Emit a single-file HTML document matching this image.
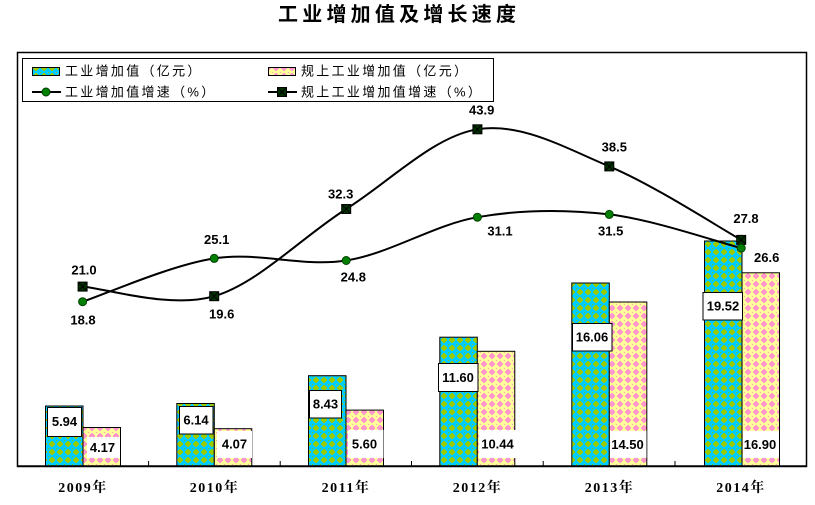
<!DOCTYPE html>
<html><head><meta charset="utf-8">
<style>
html,body{margin:0;padding:0;background:#fff;}
svg{display:block;}
.lbl{font-family:"Liberation Sans",Arial,sans-serif;font-weight:bold;font-size:13px;fill:#000;}
.cjk{font-family:"Liberation Sans","Noto Sans CJK SC",sans-serif;}
</style></head>
<body>
<svg width="815" height="505" viewBox="0 0 815 505" xmlns="http://www.w3.org/2000/svg">
<defs>
<pattern id="p1" width="8" height="8" patternUnits="userSpaceOnUse">
<rect width="8" height="8" fill="#00CCFF"/>
<g fill="#99CC00" shape-rendering="crispEdges">
<rect x="3" y="1" width="2" height="6"/>
<rect x="2" y="2" width="4" height="4"/>
<rect x="1" y="3" width="6" height="2"/>
<rect x="0" y="0" width="1" height="1"/>
</g>
</pattern>
<pattern id="p2" width="8" height="8" patternUnits="userSpaceOnUse">
<rect width="8" height="8" fill="#FFFF99"/>
<g fill="#FF99CC" shape-rendering="crispEdges">
<rect x="3" y="1" width="2" height="6"/>
<rect x="2" y="2" width="4" height="4"/>
<rect x="1" y="3" width="6" height="2"/>
<rect x="0" y="0" width="1" height="1"/>
</g>
</pattern>
</defs>

<!-- Title -->
<text x="278" y="21" class="cjk" font-size="20" font-weight="bold" textLength="238" lengthAdjust="spacing" fill="#000">工业增加值及增长速度</text>

<!-- Frame -->
<rect x="17.5" y="52.5" width="789" height="414" fill="none" stroke="#000" stroke-width="1.5"/>

<!-- Legend -->
<rect x="22.5" y="58.5" width="471" height="43" fill="#fff" stroke="#000" stroke-width="1"/>
<rect x="32.5" y="67.5" width="27" height="8" fill="url(#p1)" stroke="#000" stroke-width="1"/>
<text x="65" y="75.6" class="cjk" font-size="13" letter-spacing="2.3" fill="#000">工业增加值（亿元）</text>
<rect x="268.5" y="67.5" width="27" height="8" fill="url(#p2)" stroke="#000" stroke-width="1"/>
<text x="301" y="75.6" class="cjk" font-size="13" letter-spacing="2.3" fill="#000">规上工业增加值（亿元）</text>
<line x1="32" y1="92" x2="61" y2="92" stroke="#000" stroke-width="2"/>
<circle cx="46" cy="92" r="4" fill="#008000" stroke="#004000" stroke-width="1"/>
<text x="65" y="96.6" class="cjk" font-size="13" letter-spacing="2.3" fill="#000">工业增加值增速（%）</text>
<line x1="268" y1="92" x2="297" y2="92" stroke="#000" stroke-width="2"/>
<rect x="277.5" y="87.5" width="9" height="9" fill="#003300" stroke="#000" stroke-width="1"/>
<path d="M278 88 L286 96 M286 88 L278 96" stroke="#000" stroke-width="1"/>
<text x="301" y="96.6" class="cjk" font-size="13" letter-spacing="2.3" fill="#000">规上工业增加值增速（%）</text>

<!-- Bars series 1 -->
<g stroke="#000" stroke-width="1">
<rect x="45.5" y="406" width="37.5" height="60" fill="url(#p1)"/>
<rect x="176.8" y="403.5" width="37.5" height="62.5" fill="url(#p1)"/>
<rect x="308.5" y="375.7" width="37.5" height="90.3" fill="url(#p1)"/>
<rect x="439.8" y="337.2" width="37.5" height="128.8" fill="url(#p1)"/>
<rect x="571.8" y="283" width="37.5" height="183" fill="url(#p1)"/>
<rect x="704.5" y="241" width="37.5" height="225" fill="url(#p1)"/>
<!-- Bars series 2 -->
<rect x="83" y="427.5" width="37.5" height="38.5" fill="url(#p2)"/>
<rect x="214.3" y="428.7" width="37.5" height="37.3" fill="url(#p2)"/>
<rect x="346" y="410.1" width="37.5" height="55.9" fill="url(#p2)"/>
<rect x="477.3" y="351.3" width="37.5" height="114.7" fill="url(#p2)"/>
<rect x="609.3" y="302" width="37.5" height="164" fill="url(#p2)"/>
<rect x="742" y="272.8" width="37.5" height="193.2" fill="url(#p2)"/>
</g>

<!-- Axis line & ticks -->
<line x1="17" y1="466" x2="807" y2="466" stroke="#000" stroke-width="1.5"/>
<g stroke="#000" stroke-width="1">
<line x1="148.6" y1="461" x2="148.6" y2="466"/>
<line x1="280.2" y1="461" x2="280.2" y2="466"/>
<line x1="411.5" y1="461" x2="411.5" y2="466"/>
<line x1="543.2" y1="461" x2="543.2" y2="466"/>
<line x1="675" y1="461" x2="675" y2="466"/>
</g>

<!-- Bar labels series 1 (bordered) -->
<g fill="#fff" stroke="#000" stroke-width="1">
<rect x="47.5" y="407.5" width="34" height="29"/>
<rect x="179.5" y="406.5" width="33.5" height="27.5"/>
<rect x="309.5" y="390.5" width="32" height="27.5"/>
<rect x="438.5" y="363.5" width="39.5" height="28"/>
<rect x="572.5" y="323.5" width="39.5" height="27.5"/>
<rect x="703" y="292.5" width="39.5" height="27.5"/>
</g>
<!-- Bar labels series 2 (white boxes) -->
<g fill="#fff">
<rect x="87" y="437" width="33" height="21"/>
<rect x="217" y="431" width="35" height="27"/>
<rect x="348" y="430" width="35.5" height="28"/>
<rect x="479" y="430" width="38" height="28"/>
<rect x="610" y="431" width="36.5" height="27"/>
<rect x="743" y="431" width="36" height="27"/>
</g>
<g class="lbl" text-anchor="middle">
<text x="64.5" y="426.2">5.94</text>
<text x="196" y="424.7">6.14</text>
<text x="325.5" y="408.7">8.43</text>
<text x="458" y="382.2">11.60</text>
<text x="592" y="341.7">16.06</text>
<text x="723" y="310.7">19.52</text>
<text x="102.5" y="452">4.17</text>
<text x="234.5" y="448.7">4.07</text>
<text x="364.5" y="448.7">5.60</text>
<text x="497.5" y="448.7">10.44</text>
<text x="627.5" y="449.2">14.50</text>
<text x="760" y="449.2">16.90</text>
</g>

<!-- Lines -->
<path d="M82.6 301.7 C104.5 294.5 170.3 265.3 214.2 258.4 C258.1 251.5 302.3 267.4 346.2 260.5 C390.1 253.6 433.6 224.9 477.4 217.2 C521.3 209.5 565.3 209.3 609.3 214.4 C653.3 219.6 719.2 242.5 741.2 248.1" fill="none" stroke="#000" stroke-width="2"/>
<path d="M82.6 286.6 C104.5 288.2 170.3 309.1 214.2 296.2 C258.1 283.3 302.3 236.8 346.2 209.0 C390.1 181.2 433.6 136.4 477.4 129.3 C521.3 122.2 565.3 148.0 609.3 166.4 C653.3 184.8 719.2 227.6 741.2 239.9" fill="none" stroke="#000" stroke-width="2"/>

<!-- Square markers -->
<g>
<g transform="translate(82.6,286.6)"><rect x="-4.5" y="-4.5" width="9" height="9" fill="#003300" stroke="#000" stroke-width="1"/><path d="M-4 -4 L4 4 M4 -4 L-4 4" stroke="#000" stroke-width="1"/></g>
<g transform="translate(214.2,296.2)"><rect x="-4.5" y="-4.5" width="9" height="9" fill="#003300" stroke="#000" stroke-width="1"/><path d="M-4 -4 L4 4 M4 -4 L-4 4" stroke="#000" stroke-width="1"/></g>
<g transform="translate(346.2,209)"><rect x="-4.5" y="-4.5" width="9" height="9" fill="#003300" stroke="#000" stroke-width="1"/><path d="M-4 -4 L4 4 M4 -4 L-4 4" stroke="#000" stroke-width="1"/></g>
<g transform="translate(477.4,129.3)"><rect x="-4.5" y="-4.5" width="9" height="9" fill="#003300" stroke="#000" stroke-width="1"/><path d="M-4 -4 L4 4 M4 -4 L-4 4" stroke="#000" stroke-width="1"/></g>
<g transform="translate(609.3,166.4)"><rect x="-4.5" y="-4.5" width="9" height="9" fill="#003300" stroke="#000" stroke-width="1"/><path d="M-4 -4 L4 4 M4 -4 L-4 4" stroke="#000" stroke-width="1"/></g>
<g transform="translate(741.2,239.9)"><rect x="-4.5" y="-4.5" width="9" height="9" fill="#003300" stroke="#000" stroke-width="1"/><path d="M-4 -4 L4 4 M4 -4 L-4 4" stroke="#000" stroke-width="1"/></g>
</g>
<!-- Circle markers -->
<g fill="#008000" stroke="#004000" stroke-width="1">
<circle cx="82.6" cy="301.7" r="4"/>
<circle cx="214.2" cy="258.4" r="4"/>
<circle cx="346.2" cy="260.5" r="4"/>
<circle cx="477.4" cy="217.2" r="4"/>
<circle cx="609.3" cy="214.4" r="4"/>
<circle cx="741.2" cy="248.1" r="4"/>
</g>

<!-- Line labels -->
<g class="lbl" text-anchor="middle">
<text x="83" y="324.7">18.8</text>
<text x="216.7" y="244">25.1</text>
<text x="353.3" y="281.4">24.8</text>
<text x="500" y="235.7">31.1</text>
<text x="610.7" y="235.7">31.5</text>
<text x="766.7" y="262">26.6</text>
<text x="84" y="274.7">21.0</text>
<text x="221.7" y="318.7">19.6</text>
<text x="340.7" y="198.7">32.3</text>
<text x="481.7" y="114.7">43.9</text>
<text x="614.3" y="151.4">38.5</text>
<text x="746" y="223">27.8</text>
</g>

<!-- X axis labels -->
<g font-family="'Liberation Serif','Noto Serif CJK SC',serif" font-weight="bold" font-size="14" letter-spacing="1.5" text-anchor="middle" fill="#000">
<text x="83" y="492">2009年</text>
<text x="214.5" y="492">2010年</text>
<text x="346" y="492">2011年</text>
<text x="477.5" y="492">2012年</text>
<text x="609.5" y="492">2013年</text>
<text x="741" y="492">2014年</text>
</g>
</svg>
</body></html>
